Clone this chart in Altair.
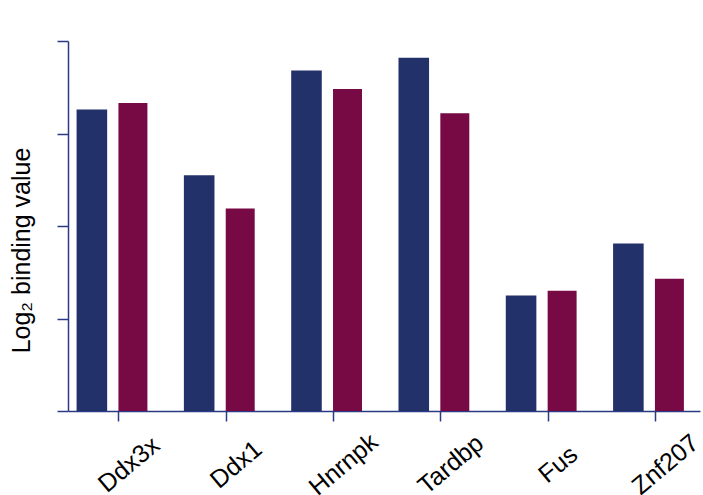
import json
import altair as alt
import pandas as pd

genes = ["Ddx3x", "Ddx1", "Hnrnpk", "Tardbp", "Fus", "Znf207"]
series_names = ["Series 1", "Series 2"]
series1_values = [3.26, 2.55, 3.68, 3.82, 1.25, 1.81]
series2_values = [3.33, 2.19, 3.48, 3.22, 1.30, 1.43]
y_ticks = [0, 1, 2, 3, 4]

NAVY = "#23316a"
MAROON = "#770944"
AXIS = "#2b3a84"

rows = []
for i, g in enumerate(genes):
    rows.append({"gene": g, "idx": i, "series": series_names[0], "value": series1_values[i]})
    rows.append({"gene": g, "idx": i, "series": series_names[1], "value": series2_values[i]})
df = pd.DataFrame(rows)

label_expr = json.dumps(genes) + "[datum.value]"

chart = (
    alt.Chart(df)
    .transform_calculate(
        x0=f"datum.idx + (datum.series == '{series_names[0]}' ? -0.39 : 0.0)",
        x1=f"datum.idx + (datum.series == '{series_names[0]}' ? -0.105 : 0.27)",
    )
    .mark_bar()
    .encode(
        x=alt.X(
            "x0:Q",
            scale=alt.Scale(domain=[-0.47, 5.42], nice=False, zero=False, padding=0),
            axis=alt.Axis(
                values=list(range(len(genes))),
                labelExpr=label_expr,
                title=None,
                grid=False,
                tickSize=10,
                tickWidth=1.5,
                domainWidth=1.5,
                domainColor=AXIS,
                tickColor=AXIS,
                labelAngle=-40,
                labelAlign="center",
                labelBaseline="middle",
                labelPadding=43,
                labelOffset=10,
                labelFontSize=25,
                labelFont="Liberation Sans",
                labelColor="black",
                labelLimit=300,
            ),
        ),
        x2="x1:Q",
        y=alt.Y(
            "value:Q",
            scale=alt.Scale(domain=[0, 4], nice=False, padding=0),
            axis=alt.Axis(
                values=y_ticks,
                labels=False,
                grid=False,
                tickSize=11,
                tickWidth=1.5,
                domainWidth=1.5,
                domainColor=AXIS,
                tickColor=AXIS,
                title="Log₂ binding value",
                titleFont="Liberation Sans",
                titleFontSize=25,
                titleFontWeight="normal",
                titleColor="black",
                titleX=-47,
                titleY=209,
                titleAngle=-90,
                titleAlign="center",
                titleBaseline="middle",
            ),
        ),
        y2=alt.datum(0),
        color=alt.Color(
            "series:N",
            scale=alt.Scale(domain=series_names, range=[NAVY, MAROON]),
            legend=None,
        ),
    )
    .properties(
        width=632,
        height=370,
        padding={"left": 68, "top": 41, "right": 3, "bottom": 84},
        autosize="none",
    )
    .configure_view(stroke=None)
)

chart.save("out.html", embed_options={"renderer": "svg", "actions": False})
